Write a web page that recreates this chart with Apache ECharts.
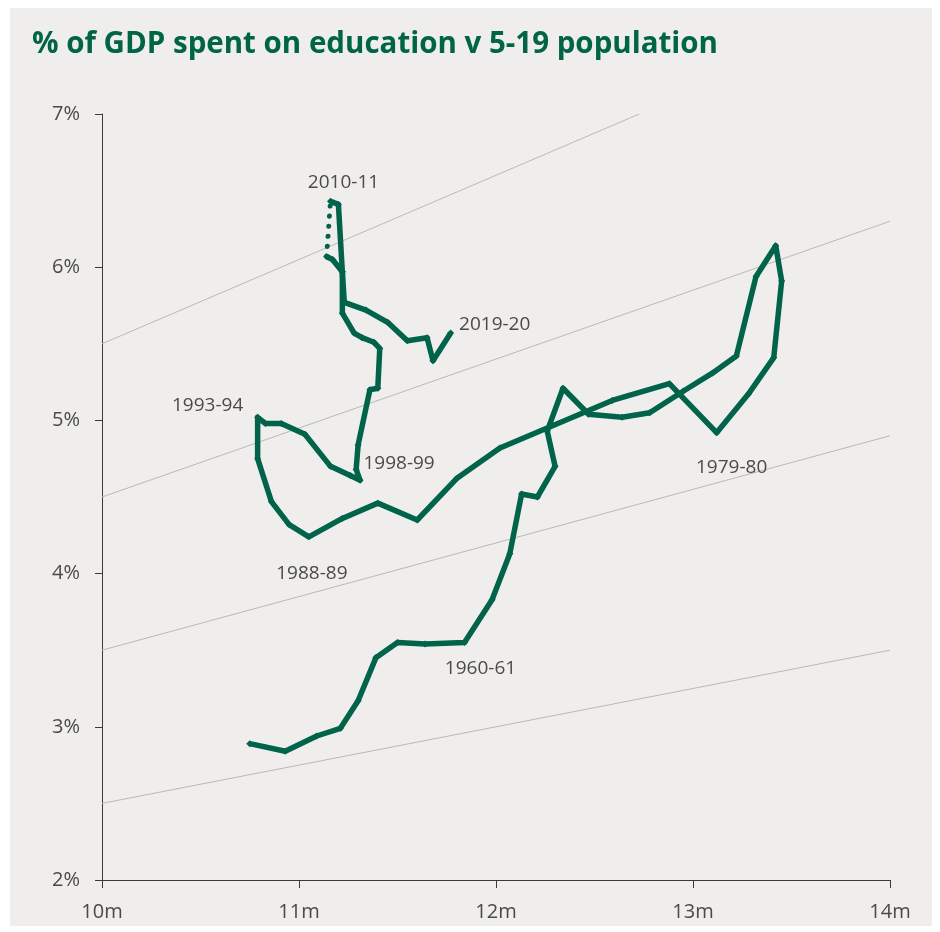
<!DOCTYPE html>
<html>
<head>
<meta charset="utf-8">
<title>% of GDP spent on education v 5-19 population</title>
<script src="https://cdn.jsdelivr.net/npm/echarts@6/dist/echarts.min.js"></script>
<style>
  html, body { margin: 0; padding: 0; background: #ffffff; }
  #chart { width: 940px; height: 932px; }
</style>
</head>
<body>
<div id="chart"></div>
<script>
// 5-19 population (millions) and education spending (% of GDP), earlier series in year order
const populationOld = [10.75, 10.93, 11.09, 11.21, 11.30, 11.39, 11.50, 11.64, 11.84, 11.98,
  12.07, 12.13, 12.21, 12.30, 12.26, 12.34, 12.47, 12.64, 12.78, 12.95,
  13.10, 13.22, 13.32, 13.42, 13.45, 13.41, 13.28, 13.12, 12.88, 12.59,
  12.02, 11.80, 11.60, 11.40, 11.22, 11.05, 10.95, 10.86, 10.79, 10.79,
  10.83, 10.91, 11.03, 11.16, 11.26, 11.31, 11.29, 11.30, 11.36, 11.40,
  11.41, 11.38, 11.32, 11.28, 11.22, 11.22, 11.17, 11.14];
const spendOld = [2.89, 2.84, 2.94, 2.99, 3.17, 3.45, 3.55, 3.54, 3.55, 3.83,
  4.13, 4.52, 4.50, 4.70, 4.93, 5.21, 5.04, 5.02, 5.05, 5.19,
  5.31, 5.42, 5.94, 6.14, 5.91, 5.41, 5.17, 4.92, 5.24, 5.13,
  4.82, 4.62, 4.35, 4.46, 4.36, 4.24, 4.32, 4.47, 4.75, 5.02,
  4.98, 4.98, 4.91, 4.70, 4.64, 4.61, 4.68, 4.84, 5.20, 5.21,
  5.47, 5.51, 5.54, 5.57, 5.70, 5.97, 6.05, 6.07];

// Current series, 2010-11 to 2019-20
const populationNew = [11.16, 11.20, 11.22, 11.23, 11.34, 11.45, 11.55, 11.65, 11.68, 11.77];
const spendNew = [6.43, 6.41, 5.97, 5.77, 5.72, 5.64, 5.52, 5.54, 5.39, 5.57];

// Year labels: [series, point index, text]
const yearLabels = [
  ['old', 8, '1960-61'],
  ['old', 27, '1979-80'],
  ['old', 35, '1988-89'],
  ['old', 39, '1993-94'],
  ['old', 45, '1998-99'],
  ['new', 0, '2010-11'],
  ['new', 9, '2019-20']
];

// Constant spend-per-child guides (% of GDP per million children)
const guideSlopes = [0.55, 0.45, 0.35, 0.25];

// Axis ranges and tick labels
const xTicks = [10, 11, 12, 13, 14];
const yTicks = [2, 3, 4, 5, 6, 7];

// Label placement relative to the labelled point (pixels)
const labelOffsets = {
  '1960-61': [16, 26],
  '1979-80': [15, 35],
  '1988-89': [3, 37],
  '1993-94': [-50, -12],
  '1998-99': [39, -17],
  '2010-11': [13, -19],
  '2019-20': [44, -8]
};

const GREEN = '#00634a';
const TEXT = '#4a4a4a';
const xMin = xTicks[0], xMax = xTicks[xTicks.length - 1];
const yMin = yTicks[0], yMax = yTicks[yTicks.length - 1];

function buildPoints(xs, ys, key) {
  return xs.map((x, i) => {
    const item = { value: [x, ys[i]] };
    const lab = yearLabels.find(l => l[0] === key && l[1] === i);
    if (lab) {
      item.label = {
        show: true,
        formatter: lab[2],
        position: 'inside',
        offset: labelOffsets[lab[2]],
        color: TEXT,
        fontSize: 19,
        fontFamily: 'Open Sans'
      };
    }
    return item;
  });
}

const guideSeries = guideSlopes.map(k => {
  const xEnd = Math.min(xMax, yMax / k);
  return {
    type: 'line',
    data: [[xMin, k * xMin], [xEnd, k * xEnd]],
    symbol: 'none',
    silent: true,
    z: 1,
    lineStyle: { color: '#b9b9b7', width: 1 }
  };
});

const lineStyleMain = { color: GREEN, width: 5.5, join: 'round' };

const chart = echarts.init(document.getElementById('chart'), null, { renderer: 'canvas' });
chart.setOption({
  backgroundColor: '#ffffff',
  animation: false,
  graphic: [{
    type: 'rect',
    z: -10,
    shape: { x: 10, y: 8, width: 922, height: 918 },
    style: { fill: '#efeeec' }
  }],
  title: {
    text: '% of GDP spent on education v 5-19 population',
    left: 27,
    top: 25,
    textStyle: { color: '#006447', fontSize: 29.5, fontWeight: 'bold', fontFamily: 'Open Sans' }
  },
  grid: { left: 102, right: 50, top: 114, bottom: 52 },
  xAxis: {
    type: 'value',
    min: xMin,
    max: xMax,
    interval: 1,
    splitLine: { show: false },
    axisLine: { show: true, lineStyle: { color: '#3a3a3a', width: 1 } },
    axisTick: { show: true, length: 8, lineStyle: { color: '#3a3a3a' } },
    axisLabel: {
      color: TEXT, fontSize: 20, fontFamily: 'Open Sans', margin: 22,
      formatter: v => v + 'm'
    }
  },
  yAxis: {
    type: 'value',
    min: yMin,
    max: yMax,
    interval: 1,
    splitLine: { show: false },
    axisLine: { show: true, lineStyle: { color: '#3a3a3a', width: 1 } },
    axisTick: { show: true, length: 7, lineStyle: { color: '#3a3a3a' } },
    axisLabel: {
      color: TEXT, fontSize: 20, fontFamily: 'Open Sans', margin: 22,
      formatter: v => v + '%'
    }
  },
  series: guideSeries.concat([
    {
      type: 'line',
      name: 'earlier',
      data: buildPoints(populationOld, spendOld, 'old'),
      symbol: 'diamond',
      symbolSize: 7,
      showAllSymbol: true,
      itemStyle: { color: GREEN },
      lineStyle: lineStyleMain,
      z: 3
    },
    {
      type: 'line',
      name: 'break',
      data: [
        [populationOld[populationOld.length - 1], spendOld[spendOld.length - 1]],
        [populationNew[0], spendNew[0]]
      ],
      symbol: 'none',
      lineStyle: { color: GREEN, width: 5, type: [0.1, 10], cap: 'round' },
      z: 3
    },
    {
      type: 'line',
      name: 'current',
      data: buildPoints(populationNew, spendNew, 'new'),
      symbol: 'diamond',
      symbolSize: 7,
      showAllSymbol: true,
      itemStyle: { color: GREEN },
      lineStyle: lineStyleMain,
      z: 4
    }
  ])
});
</script>
</body>
</html>
